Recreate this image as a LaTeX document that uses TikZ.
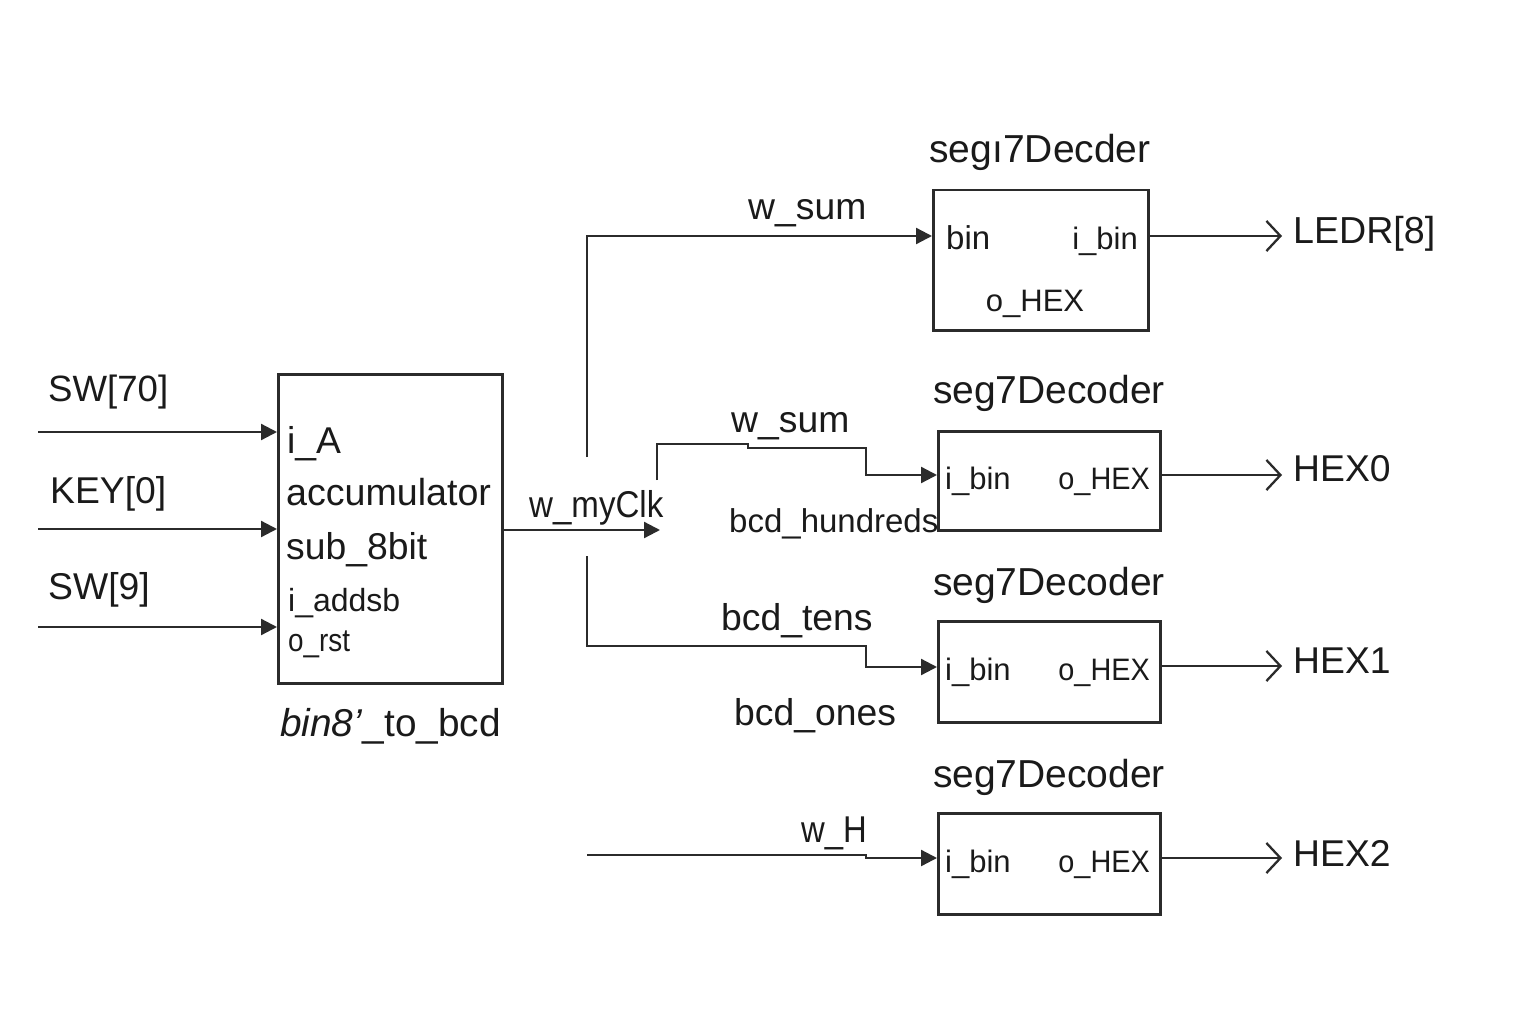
\documentclass[tikz,border=0pt]{standalone}
\usepackage{fontspec}
\setmainfont{Liberation Sans}
\usetikzlibrary{arrows.meta,calc}
\definecolor{ln}{HTML}{2B2B2B}
\definecolor{tx}{HTML}{1A1A1A}
\begin{document}
\begin{tikzpicture}[x=1pt,y=-1pt,
  blk/.style={draw=ln, line width=2.5pt, inner sep=0pt, anchor=north west},
  wire/.style={draw=ln, line width=2.3pt},
  farrow/.style={wire, -{Triangle[length=16pt,width=16pt]}},
  oarrow/.style={wire, -{Straight Barb[length=14pt,width=30pt]}},
  lbl/.style={text=tx, inner sep=0pt, anchor=base west, font=\fontsize{37.3}{40}\selectfont},
  lblc/.style={lbl, anchor=base},
  port/.style={lbl, font=\fontsize{31}{34}\selectfont},
  porte/.style={port, anchor=base east},
  portc/.style={port, anchor=base},
  ttl/.style={lblc, font=\fontsize{39}{42}\selectfont}]
\useasboundingbox (0,0) rectangle (1536,1024);
\fill[white] (0,0) rectangle (1536,1024);

% main block
\node[blk, minimum width=224pt, minimum height=309pt] (acc) at (277,373) {};
\node[lbl] (tA) at (287,453) {i\_A};
\node[lbl, font=\fontsize{37.6}{40}\selectfont] (tacc) at (286,505) {accumulator};
\node[lbl] (tsub) at (286,559) {sub\_8bit};
\node[lbl, font=\fontsize{32}{34}\selectfont] (tadd) at (288,611) {i\_addsb};
\node[lbl, font=\fontsize{32}{34}\selectfont] (trst) at (288,651) {\scalebox{0.87}[1]{o\_rst}};
\node[lbl, font=\fontsize{38.8}{42}\selectfont] (tbcd) at (280,736) {\textit{bin8'}\_to\_bcd};

% inputs
\node[lbl, font=\fontsize{36.6}{40}\selectfont] (lsw70) at (48,401) {SW[70]};
\node[lbl] (lkey) at (50,503) {KEY[0]};
\node[lbl] (lsw9) at (48,599) {SW[9]};
\coordinate (in1) at (38,432);
\coordinate (in2) at (38,529);
\coordinate (in3) at (38,627);
\draw[farrow] (in1) -- (in1 -| acc.west);
\draw[farrow] (in2) -- (in2 -| acc.west);
\draw[farrow] (in3) -- (in3 -| acc.west);

% w_myClk
\coordinate (clk) at (660,530);
\draw[farrow] (acc.east |- clk) -- (clk);
\node[lbl] (lclk) at (529,517) {\scalebox{0.887}[1]{w\_myClk}};

% decoders
\node[blk, minimum width=215pt, minimum height=140pt] (d1) at (932,189) {};
\node[blk, minimum width=222pt, minimum height=99pt] (d2) at (937,430) {};
\node[blk, minimum width=222pt, minimum height=101pt] (d3) at (937,620) {};
\node[blk, minimum width=222pt, minimum height=101pt] (d4) at (937,812) {};

\node[ttl] (t1) at (1040,163) {segı7Decder};
\node[ttl] (t2) at (1049,403) {seg7Decoder};
\node[ttl] (t3) at (1049,595) {seg7Decoder};
\node[ttl] (t4) at (1049,787) {seg7Decoder};

\node[port, font=\fontsize{33}{36}\selectfont] (p1a) at (946,250) {bin};
\node[porte] (p1b) at (1138,250) {i\_bin};
\node[portc] (p1c) at (1035,311) {o\_HEX};
\node[port] (p2a) at (945,489) {i\_bin};
\node[porte] (p2b) at (1150,489) {\scalebox{0.93}[1]{o\_HEX}};
\node[port] (p3a) at (945,680) {i\_bin};
\node[porte] (p3b) at (1150,680) {\scalebox{0.93}[1]{o\_HEX}};
\node[port] (p4a) at (945,872) {i\_bin};
\node[porte] (p4b) at (1150,872) {\scalebox{0.93}[1]{o\_HEX}};

\coordinate (d1i) at ($(d1.north west)+(0,47)$);
\coordinate (d1o) at ($(d1.north east)+(0,47)$);
\coordinate (d2i) at ($(d2.north west)+(0,45)$);
\coordinate (d2o) at ($(d2.north east)+(0,45)$);
\coordinate (d3i) at ($(d3.north west)+(0,47)$);
\coordinate (d3o) at ($(d3.north east)+(0,46)$);
\coordinate (d4i) at ($(d4.north west)+(0,46)$);
\coordinate (d4o) at ($(d4.north east)+(0,46)$);

% nets to decoders
\coordinate (s1) at (587,457);
\draw[farrow] (s1) |- (d1i);
\node[lbl] (lsum1) at (748,220) {w\_sum};

\coordinate (s2) at (657,480);
\draw[farrow] (s2) -- (657,444) -- (748,444) -- (748,448) -- (866,448) -- (866,475) -- (d2i);
\node[lbl] (lsum2) at (731,432) {w\_sum};
\node[lbl, font=\fontsize{33}{36}\selectfont] (lhund) at (729,532) {bcd\_hundreds};

\coordinate (s3) at (587,556);
\draw[farrow] (s3) -- (587,646) -- (866,646) -- (866,667) -- (d3i);
\node[lbl] (ltens) at (721,630) {bcd\_tens};
\node[lbl] (lones) at (734,725) {bcd\_ones};

\coordinate (s4) at (587,855);
\draw[farrow] (s4) -- (866,855) -- (866,858) -- (d4i);
\node[lbl] (lwh) at (801,842) {\scalebox{0.88}[1]{w\_H}};

% outputs
\node[lbl, font=\fontsize{37.6}{40}\selectfont] (ledr) at (1293,244) {LEDR[8]};
\node[lbl] (hex0) at (1293,481) {HEX0};
\node[lbl] (hex1) at (1293,673) {HEX1};
\node[lbl] (hex2) at (1293,866) {HEX2};
\draw[oarrow] (d1o) -- ($(d1o -| ledr.west)+(-11,0)$);
\draw[oarrow] (d2o) -- ($(d2o -| hex0.west)+(-11,0)$);
\draw[oarrow] (d3o) -- ($(d3o -| hex1.west)+(-11,0)$);
\draw[oarrow] (d4o) -- ($(d4o -| hex2.west)+(-11,0)$);
\end{tikzpicture}
\end{document}
